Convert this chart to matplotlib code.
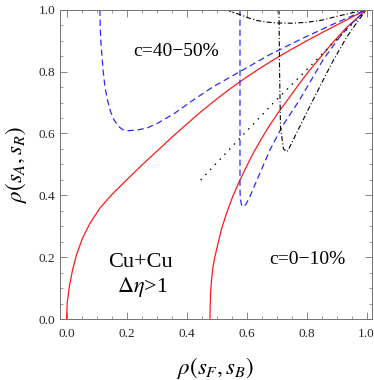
import numpy as np
import matplotlib
matplotlib.use("Agg")
import matplotlib.pyplot as plt

plt.rcParams['font.family'] = ['Liberation Serif', 'DejaVu Serif']
plt.rcParams['mathtext.fontset'] = 'stix'

# curves
red1_x = [0.0, 0.002, 0.009, 0.02, 0.033, 0.053, 0.078, 0.111, 0.15, 0.2, 0.25, 0.3, 0.35,
          0.4, 0.45, 0.5, 0.55, 0.6, 0.65, 0.7, 0.75, 0.8, 0.85, 0.9, 0.95, 1.0]
red1_y = [0.0, 0.052, 0.105, 0.16, 0.208, 0.262, 0.31, 0.359, 0.402, 0.45, 0.497, 0.542, 0.587,
          0.630, 0.672, 0.711, 0.748, 0.782, 0.814, 0.844, 0.872, 0.899, 0.925, 0.950, 0.975, 1.0]

red2_x = [0.478, 0.4785, 0.480, 0.483, 0.488, 0.494, 0.502, 0.516, 0.533, 0.554, 0.578, 0.60,
          0.622, 0.65, 0.678, 0.705, 0.734, 0.77, 0.805, 0.839, 0.883, 0.933, 1.0]
red2_y = [0.0, 0.04, 0.085, 0.126, 0.17, 0.20, 0.234, 0.29, 0.342, 0.397, 0.45, 0.494,
          0.536, 0.584, 0.628, 0.667, 0.705, 0.753, 0.798, 0.838, 0.889, 0.942, 1.0]

blue1_x = [0.111, 0.112, 0.114, 0.118, 0.122, 0.128, 0.136, 0.146, 0.158, 0.174, 0.188, 0.202,
           0.234, 0.269, 0.305, 0.358, 0.413, 0.487, 0.578, 0.678, 0.788, 0.9, 1.0]
blue1_y = [1.0, 0.95, 0.90, 0.85, 0.80, 0.75, 0.709, 0.672, 0.644, 0.622, 0.612, 0.609,
           0.611, 0.618, 0.634, 0.664, 0.702, 0.750, 0.800, 0.855, 0.908, 0.958, 1.0]

blue2_x = [0.578, 0.578, 0.579, 0.583, 0.589, 0.597, 0.611, 0.639, 0.678, 0.72, 0.777, 0.855,
           0.913, 0.953, 1.0]
blue2_y = [1.0, 0.42, 0.39, 0.37, 0.363, 0.370, 0.396, 0.46, 0.547, 0.625, 0.709, 0.838,
           0.915, 0.958, 1.0]

black1_x = [0.533, 0.553, 0.578, 0.604, 0.633, 0.665, 0.700, 0.751, 0.800, 0.852, 0.900, 0.953, 1.0]
black1_y = [1.0, 0.992, 0.984, 0.974, 0.965, 0.960, 0.957, 0.956, 0.959, 0.966, 0.978, 0.99, 1.0]

black2_x = [0.708, 0.710, 0.713, 0.723, 0.734, 0.739, 0.771, 0.812, 0.884, 0.933, 0.969, 1.0]
black2_y = [1.0, 0.80, 0.62, 0.55, 0.541, 0.547, 0.61, 0.69, 0.827, 0.91, 0.96, 1.0]

dot_x = [0.447, 0.578, 0.689, 0.822, 1.0]
dot_y = [0.45, 0.585, 0.698, 0.827, 1.0]

fig = plt.figure(figsize=(3.74, 3.80), dpi=100)
ax = fig.add_axes([0.1604, 0.1597, 0.8334, 0.815])

ax.plot(red1_x, red1_y, color='#ff1a1a', lw=0.9)
ax.plot(red2_x, red2_y, color='#ff1a1a', lw=0.9)
ax.plot(blue1_x, blue1_y, color='#2a2aff', lw=0.9, dashes=(5, 3))
ax.plot(blue2_x, blue2_y, color='#2a2aff', lw=0.9, dashes=(5, 3))
ax.plot(black1_x, black1_y, color='k', lw=0.8, dashes=(4.5, 2, 1, 2))
ax.plot(black2_x, black2_y, color='k', lw=0.8, dashes=(4.5, 2, 1, 2))
ax.plot(dot_x, dot_y, color='k', lw=1.0, dashes=(1, 4))

ax.set_xlim(-0.022, 1.017)
ax.set_ylim(0, 1)
ax.set_xticks(np.arange(0, 1.01, 0.2))
ax.set_yticks(np.arange(0, 1.01, 0.2))
ax.set_xticks(np.arange(0, 1.01, 0.05), minor=True)
ax.set_yticks(np.arange(0, 1.01, 0.05), minor=True)
ax.set_xticklabels(['0.0', '0.2', '0.4', '0.6', '0.8', '1.0'])
ax.set_yticklabels(['0.0', '0.2', '0.4', '0.6', '0.8', '1.0'])
ax.tick_params(which='both', direction='in', top=True, right=True,
               color='0.45', labelsize=9.5, labelcolor='0.15')
ax.tick_params(axis='x', pad=6)
ax.tick_params(axis='y', pad=3.5)
ax.tick_params(which='major', length=5, width=0.6)
ax.tick_params(which='minor', length=2.5, width=0.5)
for s in ax.spines.values():
    s.set_color('0.45')
    s.set_linewidth(0.7)

ax.set_xlabel(r'$\rho(s_F,s_B)$', fontsize=16.5, labelpad=11)
ax.set_ylabel(r'$\rho(s_A,s_R)$', fontsize=16.5, labelpad=7)

ax.text(0.366, 0.864, 'c=40\u221250%', fontsize=14, ha='center', va='center')
ax.text(0.803, 0.194, 'c=0\u221210%', fontsize=14, ha='center', va='center')
ax.text(0.246, 0.185, 'Cu+Cu', fontsize=16, ha='center', va='center')
ax.text(0.254, 0.104, r'$\Delta\eta$>1', fontsize=16, ha='center', va='center')

fig.savefig('out.png', dpi=100)
